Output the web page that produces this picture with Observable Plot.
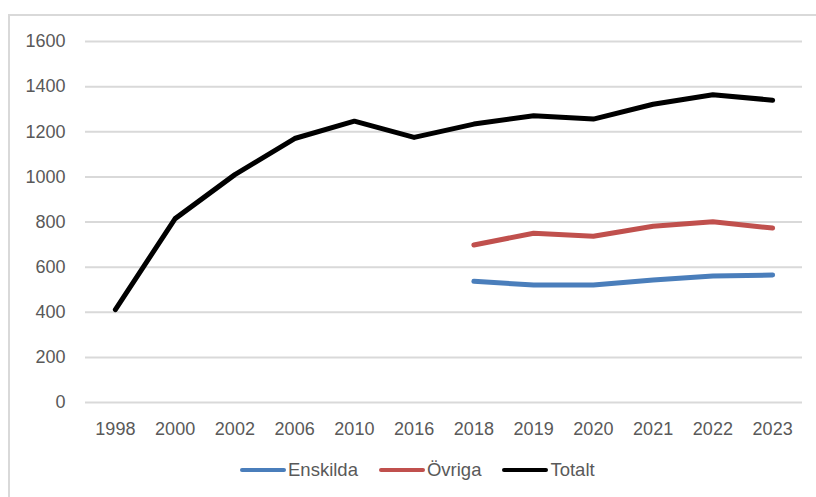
<!DOCTYPE html>
<html>
<head>
<meta charset="utf-8">
<script src="https://cdn.jsdelivr.net/npm/d3@7"></script>
<script src="https://cdn.jsdelivr.net/npm/@observablehq/plot@0.6"></script>
<style>
  html, body { margin: 0; padding: 0; background: #fff; }
  #wrap { position: relative; width: 816px; height: 497px; overflow: hidden; font-family: "Liberation Sans", Arial, sans-serif; }
  #frame { position: absolute; left: 8px; top: 14px; width: 900px; height: 600px; border-left: 2px solid #d9d9d9; border-top: 2px solid #d9d9d9; box-sizing: border-box; }
  #chart { position: absolute; left: 0; top: 0; }
  #legend { position: absolute; left: 240px; top: 459px; display: flex; align-items: center; font-size: 18.5px; color: #595959; }
  .item { display: flex; align-items: center; margin-right: 21px; }
  .sw { width: 46px; height: 4.5px; border-radius: 2px; margin-right: 2px; }
</style>
</head>
<body>
<div id="wrap">
  <div id="frame"></div>
  <div id="chart"></div>
  <div id="legend"></div>
</div>
<script>
const years = ["1998","2000","2002","2006","2010","2016","2018","2019","2020","2021","2022","2023"];
const totalt = [412, 815, 1010, 1170, 1247, 1175, 1234, 1271, 1256, 1322, 1364, 1340];
const ovriga = [null, null, null, null, null, null, 698, 750, 737, 781, 801, 773];
const enskilda = [null, null, null, null, null, null, 537, 521, 521, 543, 561, 565];
const yTicks = [0, 200, 400, 600, 800, 1000, 1200, 1400, 1600];
const seriesNames = ["Enskilda", "Övriga", "Totalt"];
const seriesColors = ["#4a7ebb", "#c0504d", "#000000"];

const seriesValues = [enskilda, ovriga, totalt];
const rows = [];
seriesNames.forEach((name, s) => {
  years.forEach((yr, i) => {
    const v = seriesValues[s][i];
    if (v != null) rows.push({series: name, year: yr, value: v});
  });
});

const chart = Plot.plot({
  width: 816,
  height: 455,
  marginLeft: 85,
  marginRight: 14,
  marginTop: 41,
  marginBottom: 53,
  style: { fontFamily: "Liberation Sans, Arial, sans-serif", fontSize: "18px", color: "#595959", background: "transparent", overflow: "visible" },
  x: { type: "point", domain: years, padding: 0.5, round: false, label: null },
  y: { domain: [0, 1600], label: null },
  color: { domain: seriesNames, range: seriesColors },
  marks: [
    Plot.ruleY(yTicks, { stroke: "#d9d9d9", strokeWidth: 2, strokeOpacity: 1 }),
    Plot.axisY({ ticks: yTicks, tickFormat: d => String(d), tickSize: 0, tickPadding: 20, label: null, fill: "#595959" }),
    Plot.axisX({ tickSize: 0, tickPadding: 20, label: null, fill: "#595959" }),
    Plot.line(rows, { x: "year", y: "value", z: "series", stroke: "series", strokeWidth: 5, strokeLinecap: "round", strokeLinejoin: "round" })
  ]
});
document.getElementById("chart").appendChild(chart);

const legend = document.getElementById("legend");
seriesNames.forEach((name, i) => {
  const item = document.createElement("div");
  item.className = "item";
  const sw = document.createElement("div");
  sw.className = "sw";
  sw.style.background = seriesColors[i];
  const t = document.createElement("span");
  t.textContent = name;
  item.appendChild(sw);
  item.appendChild(t);
  legend.appendChild(item);
});
</script>
</body>
</html>
